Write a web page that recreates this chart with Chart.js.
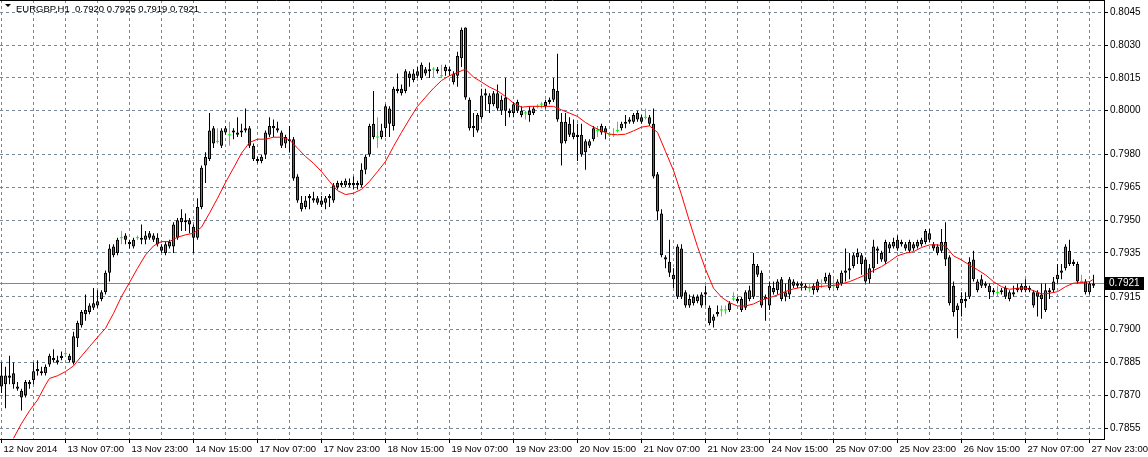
<!DOCTYPE html>
<html>
<head>
<meta charset="utf-8">
<title>EURGBP,H1</title>
<script src="https://cdn.jsdelivr.net/npm/chart.js@4.4.1/dist/chart.umd.min.js"></script>
<style>
  html, body { margin: 0; padding: 0; background: #ffffff; }
  canvas { display: block; }
</style>
</head>
<body>
<canvas id="chart" width="1148" height="457"></canvas>
<script>
// header line: symbol and the OHLC of the last bar
const symbolLabel = "EURGBP,H1";
const lastBar = [0.7920, 0.7925, 0.7919, 0.7921];

// right axis price levels
const priceTicks = [0.8045, 0.8030, 0.8015, 0.8000, 0.7980, 0.7965, 0.7950, 0.7935, 0.7915, 0.7900, 0.7885, 0.7870, 0.7855];

// bottom axis, one label every 16 hourly bars
const timeLabels = ["12 Nov 2014", "13 Nov 07:00", "13 Nov 23:00", "14 Nov 15:00", "17 Nov 07:00", "17 Nov 23:00",
  "18 Nov 15:00", "19 Nov 07:00", "19 Nov 23:00", "20 Nov 15:00", "21 Nov 07:00", "21 Nov 23:00",
  "24 Nov 15:00", "25 Nov 07:00", "25 Nov 23:00", "26 Nov 15:00", "27 Nov 07:00", "27 Nov 23:00"];
const labelEvery = 16;
const gridEvery = 8;

// hourly candles, 16 per row
const opens = [
  0.7879, 0.7875, 0.7878, 0.7880, 0.7874, 0.7872, 0.7870, 0.7875, 0.7877, 0.7882, 0.7880, 0.7880, 0.7884, 0.7886, 0.7885, 0.7887,
  0.7889, 0.7888, 0.7885, 0.7896, 0.7902, 0.7909, 0.7908, 0.7910, 0.7911, 0.7914, 0.7917, 0.7926, 0.7938, 0.7935, 0.7942, 0.7943,
  0.7940, 0.7938, 0.7942, 0.7941, 0.7941, 0.7944, 0.7943, 0.7942, 0.7938, 0.7935, 0.7938, 0.7938, 0.7942, 0.7949, 0.7950, 0.7950,
  0.7947, 0.7942, 0.7956, 0.7975, 0.7978, 0.7992, 0.7986, 0.7984, 0.7990, 0.7989, 0.7990, 0.7990, 0.7990, 0.7991, 0.7992, 0.7984,
  0.7978, 0.7977, 0.7980, 0.7989, 0.7992, 0.7992, 0.7990, 0.7985, 0.7986, 0.7987, 0.7970, 0.7958, 0.7956, 0.7960, 0.7960, 0.7960,
  0.7959, 0.7958, 0.7960, 0.7959, 0.7967, 0.7966, 0.7966, 0.7966, 0.7966, 0.7967, 0.7966, 0.7973, 0.7980, 0.7994, 0.7988, 0.7988,
  0.7992, 0.8001, 0.7993, 0.8009, 0.8010, 0.8009, 0.8017, 0.8014, 0.8018, 0.8015, 0.8019, 0.8018, 0.8019, 0.8019, 0.8016, 0.8018,
  0.8019, 0.8017, 0.8016, 0.8024, 0.8038, 0.8005, 0.7993, 0.7991, 0.7997, 0.8008, 0.8003, 0.8003, 0.8008, 0.8000, 0.8006, 0.8000,
  0.7999, 0.8004, 0.7998, 0.7999, 0.7998, 0.7999, 0.8002, 0.8003, 0.8002, 0.8004, 0.8005, 0.8009, 0.7995, 0.7986, 0.7994, 0.7990,
  0.7989, 0.7989, 0.7981, 0.7984, 0.7987, 0.7991, 0.7990, 0.7992, 0.7989, 0.7989, 0.7991, 0.7992, 0.7994, 0.7995, 0.7995, 0.7999,
  0.7997, 0.7997, 0.7997, 0.7994, 0.7971, 0.7953, 0.7933, 0.7931, 0.7925, 0.7915, 0.7937, 0.7917, 0.7911, 0.7915, 0.7913, 0.7916,
  0.7916, 0.7910, 0.7904, 0.7907, 0.7909, 0.7909, 0.7909, 0.7914, 0.7913, 0.7914, 0.7910, 0.7914, 0.7915, 0.7929, 0.7926, 0.7914,
  0.7911, 0.7919, 0.7918, 0.7923, 0.7915, 0.7916, 0.7922, 0.7921, 0.7921, 0.7920, 0.7919, 0.7920, 0.7918, 0.7921, 0.7922, 0.7925,
  0.7920, 0.7919, 0.7921, 0.7926, 0.7927, 0.7929, 0.7933, 0.7934, 0.7932, 0.7923, 0.7928, 0.7937, 0.7935, 0.7931, 0.7937, 0.7938,
  0.7941, 0.7940, 0.7939, 0.7936, 0.7939, 0.7938, 0.7939, 0.7940, 0.7944, 0.7939, 0.7938, 0.7936, 0.7940, 0.7933, 0.7920, 0.7909,
  0.7912, 0.7913, 0.7915, 0.7932, 0.7918, 0.7923, 0.7921, 0.7920, 0.7918, 0.7917, 0.7917, 0.7919, 0.7914, 0.7916, 0.7918, 0.7918,
  0.7920, 0.7919, 0.7917, 0.7917, 0.7916, 0.7909, 0.7917, 0.7918, 0.7923, 0.7926, 0.7928, 0.7936, 0.7931, 0.7930, 0.7922, 0.7922,
  0.7917, 0.7920
];
const highs = [
  0.7885, 0.7883, 0.7888, 0.7885, 0.7876, 0.7873, 0.7877, 0.7877, 0.7885, 0.7886, 0.7883, 0.7884, 0.7889, 0.7891, 0.7888, 0.7890,
  0.7891, 0.7889, 0.7899, 0.7904, 0.7909, 0.7916, 0.7912, 0.7919, 0.7918, 0.7918, 0.7927, 0.7939, 0.7939, 0.7942, 0.7945, 0.7944,
  0.7941, 0.7942, 0.7943, 0.7948, 0.7945, 0.7945, 0.7944, 0.7944, 0.7939, 0.7940, 0.7941, 0.7949, 0.7951, 0.7955, 0.7953, 0.7951,
  0.7948, 0.7960, 0.7975, 0.7981, 0.7999, 0.7993, 0.7992, 0.7992, 0.7993, 0.7995, 0.7992, 0.7997, 0.7994, 0.8001, 0.7993, 0.7985,
  0.7979, 0.7980, 0.7991, 0.7997, 0.7996, 0.7995, 0.7991, 0.7989, 0.7993, 0.7988, 0.7971, 0.7961, 0.7961, 0.7962, 0.7963, 0.7961,
  0.7961, 0.7961, 0.7962, 0.7967, 0.7968, 0.7968, 0.7969, 0.7969, 0.7970, 0.7968, 0.7976, 0.7980, 0.7994, 0.8009, 0.7997, 0.7994,
  0.8003, 0.8002, 0.8011, 0.8017, 0.8012, 0.8019, 0.8018, 0.8019, 0.8020, 0.8022, 0.8020, 0.8022, 0.8020, 0.8020, 0.8021, 0.8021,
  0.8020, 0.8018, 0.8027, 0.8038, 0.8038, 0.8006, 0.7999, 0.7999, 0.8010, 0.8010, 0.8008, 0.8009, 0.8012, 0.8007, 0.8015, 0.8001,
  0.8004, 0.8005, 0.8002, 0.8000, 0.8002, 0.8002, 0.8003, 0.8004, 0.8005, 0.8006, 0.8015, 0.8026, 0.7999, 0.7999, 0.7997, 0.7996,
  0.7994, 0.7994, 0.7987, 0.7987, 0.7993, 0.7993, 0.7994, 0.7993, 0.7990, 0.7992, 0.7995, 0.7995, 0.7998, 0.7997, 0.7999, 0.8000,
  0.7998, 0.8001, 0.7998, 0.8001, 0.7972, 0.7955, 0.7934, 0.7941, 0.7928, 0.7939, 0.7939, 0.7918, 0.7916, 0.7916, 0.7916, 0.7917,
  0.7920, 0.7911, 0.7907, 0.7911, 0.7911, 0.7911, 0.7913, 0.7917, 0.7915, 0.7915, 0.7918, 0.7920, 0.7935, 0.7930, 0.7927, 0.7916,
  0.7922, 0.7922, 0.7923, 0.7924, 0.7921, 0.7924, 0.7923, 0.7922, 0.7922, 0.7921, 0.7921, 0.7921, 0.7923, 0.7923, 0.7926, 0.7926,
  0.7923, 0.7923, 0.7927, 0.7937, 0.7935, 0.7935, 0.7937, 0.7935, 0.7933, 0.7930, 0.7941, 0.7938, 0.7936, 0.7941, 0.7940, 0.7942,
  0.7943, 0.7941, 0.7940, 0.7941, 0.7940, 0.7941, 0.7942, 0.7946, 0.7946, 0.7940, 0.7939, 0.7946, 0.7949, 0.7934, 0.7922, 0.7912,
  0.7917, 0.7917, 0.7933, 0.7936, 0.7923, 0.7925, 0.7922, 0.7921, 0.7919, 0.7920, 0.7919, 0.7920, 0.7918, 0.7920, 0.7921, 0.7921,
  0.7923, 0.7920, 0.7918, 0.7918, 0.7921, 0.7921, 0.7919, 0.7924, 0.7930, 0.7930, 0.7939, 0.7941, 0.7932, 0.7931, 0.7925, 0.7923,
  0.7922, 0.7925
];
const lows = [
  0.7871, 0.7864, 0.7875, 0.7873, 0.7872, 0.7863, 0.7869, 0.7873, 0.7875, 0.7879, 0.7879, 0.7879, 0.7883, 0.7885, 0.7884, 0.7886,
  0.7888, 0.7885, 0.7884, 0.7892, 0.7901, 0.7904, 0.7907, 0.7909, 0.7910, 0.7913, 0.7916, 0.7922, 0.7933, 0.7934, 0.7939, 0.7939,
  0.7937, 0.7937, 0.7941, 0.7939, 0.7939, 0.7941, 0.7940, 0.7938, 0.7935, 0.7934, 0.7937, 0.7935, 0.7941, 0.7945, 0.7945, 0.7944,
  0.7935, 0.7941, 0.7955, 0.7967, 0.7977, 0.7983, 0.7985, 0.7983, 0.7989, 0.7984, 0.7987, 0.7988, 0.7988, 0.7990, 0.7983, 0.7977,
  0.7976, 0.7976, 0.7978, 0.7988, 0.7988, 0.7990, 0.7983, 0.7983, 0.7981, 0.7968, 0.7958, 0.7954, 0.7955, 0.7955, 0.7958, 0.7957,
  0.7956, 0.7955, 0.7956, 0.7958, 0.7964, 0.7965, 0.7965, 0.7965, 0.7964, 0.7964, 0.7965, 0.7971, 0.7979, 0.7987, 0.7983, 0.7987,
  0.7988, 0.7988, 0.7991, 0.8008, 0.8007, 0.8008, 0.8011, 0.8013, 0.8015, 0.8014, 0.8016, 0.8015, 0.8015, 0.8017, 0.8015, 0.8016,
  0.8016, 0.8012, 0.8011, 0.8020, 0.8005, 0.7991, 0.7988, 0.7990, 0.7996, 0.8000, 0.7999, 0.8002, 0.8000, 0.7998, 0.7993, 0.7997,
  0.7997, 0.7999, 0.7997, 0.7996, 0.7995, 0.7998, 0.8001, 0.8001, 0.8001, 0.8003, 0.8004, 0.7995, 0.7975, 0.7985, 0.7988, 0.7987,
  0.7977, 0.7979, 0.7973, 0.7983, 0.7986, 0.7988, 0.7989, 0.7987, 0.7988, 0.7988, 0.7990, 0.7991, 0.7992, 0.7994, 0.7994, 0.7995,
  0.7994, 0.7996, 0.7993, 0.7969, 0.7950, 0.7933, 0.7928, 0.7924, 0.7919, 0.7914, 0.7914, 0.7910, 0.7910, 0.7911, 0.7912, 0.7910,
  0.7911, 0.7902, 0.7901, 0.7906, 0.7906, 0.7907, 0.7908, 0.7913, 0.7912, 0.7908, 0.7909, 0.7913, 0.7914, 0.7924, 0.7910, 0.7904,
  0.7909, 0.7916, 0.7916, 0.7913, 0.7913, 0.7914, 0.7919, 0.7919, 0.7918, 0.7918, 0.7917, 0.7916, 0.7917, 0.7919, 0.7921, 0.7918,
  0.7918, 0.7918, 0.7920, 0.7922, 0.7923, 0.7928, 0.7930, 0.7925, 0.7921, 0.7921, 0.7926, 0.7930, 0.7931, 0.7930, 0.7935, 0.7937,
  0.7936, 0.7938, 0.7936, 0.7935, 0.7936, 0.7937, 0.7938, 0.7939, 0.7940, 0.7936, 0.7934, 0.7935, 0.7929, 0.7911, 0.7906, 0.7896,
  0.7906, 0.7910, 0.7914, 0.7922, 0.7917, 0.7919, 0.7919, 0.7914, 0.7916, 0.7915, 0.7916, 0.7914, 0.7913, 0.7915, 0.7917, 0.7917,
  0.7917, 0.7917, 0.7910, 0.7906, 0.7905, 0.7908, 0.7914, 0.7917, 0.7921, 0.7923, 0.7927, 0.7929, 0.7929, 0.7921, 0.7921, 0.7916,
  0.7916, 0.7919
];
const closes = [
  0.7874, 0.7879, 0.7879, 0.7875, 0.7873, 0.7869, 0.7876, 0.7876, 0.7881, 0.7881, 0.7881, 0.7883, 0.7888, 0.7887, 0.7886, 0.7888,
  0.7889, 0.7886, 0.7897, 0.7903, 0.7908, 0.7907, 0.7911, 0.7912, 0.7913, 0.7917, 0.7926, 0.7937, 0.7934, 0.7941, 0.7942, 0.7941,
  0.7939, 0.7941, 0.7942, 0.7942, 0.7943, 0.7942, 0.7941, 0.7939, 0.7936, 0.7939, 0.7940, 0.7948, 0.7950, 0.7951, 0.7949, 0.7948,
  0.7942, 0.7956, 0.7974, 0.7979, 0.7991, 0.7985, 0.7986, 0.7991, 0.7992, 0.7989, 0.7991, 0.7989, 0.7991, 0.7992, 0.7984, 0.7978,
  0.7977, 0.7979, 0.7990, 0.7993, 0.7993, 0.7991, 0.7984, 0.7988, 0.7987, 0.7969, 0.7959, 0.7955, 0.7959, 0.7961, 0.7959, 0.7958,
  0.7957, 0.7960, 0.7961, 0.7966, 0.7965, 0.7967, 0.7968, 0.7967, 0.7967, 0.7966, 0.7973, 0.7979, 0.7993, 0.7988, 0.7988, 0.7991,
  0.8002, 0.7994, 0.8010, 0.8010, 0.8008, 0.8018, 0.8015, 0.8017, 0.8016, 0.8021, 0.8017, 0.8019, 0.8019, 0.8018, 0.8016, 0.8020,
  0.8018, 0.8013, 0.8025, 0.8037, 0.8006, 0.7992, 0.7992, 0.7998, 0.8007, 0.8007, 0.8007, 0.8008, 0.8001, 0.8005, 0.8000, 0.7999,
  0.8003, 0.8000, 0.8000, 0.7999, 0.8000, 0.8001, 0.8002, 0.8003, 0.8004, 0.8005, 0.8010, 0.7996, 0.7985, 0.7995, 0.7989, 0.7988,
  0.7988, 0.7980, 0.7986, 0.7986, 0.7992, 0.7991, 0.7993, 0.7990, 0.7989, 0.7989, 0.7991, 0.7994, 0.7995, 0.7996, 0.7998, 0.7996,
  0.7995, 0.7997, 0.7994, 0.7970, 0.7954, 0.7934, 0.7932, 0.7926, 0.7923, 0.7938, 0.7915, 0.7911, 0.7914, 0.7912, 0.7915, 0.7911,
  0.7917, 0.7903, 0.7906, 0.7908, 0.7909, 0.7909, 0.7912, 0.7914, 0.7914, 0.7909, 0.7917, 0.7918, 0.7930, 0.7925, 0.7911, 0.7915,
  0.7920, 0.7917, 0.7922, 0.7914, 0.7917, 0.7923, 0.7920, 0.7920, 0.7920, 0.7919, 0.7919, 0.7918, 0.7922, 0.7921, 0.7924, 0.7919,
  0.7920, 0.7922, 0.7926, 0.7927, 0.7928, 0.7934, 0.7935, 0.7930, 0.7922, 0.7928, 0.7938, 0.7936, 0.7932, 0.7940, 0.7939, 0.7940,
  0.7937, 0.7939, 0.7937, 0.7940, 0.7937, 0.7940, 0.7941, 0.7945, 0.7941, 0.7937, 0.7935, 0.7940, 0.7932, 0.7912, 0.7908, 0.7911,
  0.7914, 0.7914, 0.7931, 0.7923, 0.7922, 0.7920, 0.7920, 0.7917, 0.7917, 0.7917, 0.7918, 0.7915, 0.7917, 0.7917, 0.7919, 0.7920,
  0.7918, 0.7918, 0.7911, 0.7915, 0.7914, 0.7918, 0.7918, 0.7922, 0.7925, 0.7927, 0.7938, 0.7930, 0.7930, 0.7922, 0.7922, 0.7917,
  0.7921, 0.7921
];

// moving average (bar number, value)
const maBars = [
  3, 5, 7, 9, 11, 12, 14, 16, 18, 20,
  22, 24, 26, 28, 30, 32, 34, 36, 38, 40,
  42, 44, 46, 48, 50, 52, 54, 56, 58, 60,
  62, 64, 66, 68, 70, 72, 74, 76, 78, 80,
  82, 84, 86, 88, 90, 92, 94, 96, 98, 100,
  102, 104, 106, 108, 110, 112, 114, 116, 118, 120,
  122, 124, 126, 128, 130, 132, 134, 136, 138, 140,
  142, 144, 146, 148, 150, 152, 154, 156, 158, 160,
  162, 164, 166, 168, 170, 172, 174, 176, 178, 180,
  182, 184, 186, 188, 190, 192, 194, 196, 198, 200,
  202, 204, 206, 208, 210, 212, 214, 216, 218, 220,
  222, 224, 226, 228, 230, 232, 234, 236, 238, 240,
  242, 244, 246, 248, 250, 252, 254, 256, 258, 260,
  262, 264, 266, 268, 270, 272, 273
];
const maValues = [
  0.78503, 0.78571, 0.78629, 0.78678, 0.78747, 0.78777, 0.78789, 0.78808, 0.78834, 0.78879,
  0.78922, 0.78965, 0.79006, 0.79074, 0.79151, 0.79215, 0.79280, 0.79341, 0.79382, 0.79402,
  0.79402, 0.79422, 0.79433, 0.79440, 0.79468, 0.79532, 0.79600, 0.79672, 0.79738, 0.79806,
  0.79855, 0.79870, 0.79870, 0.79879, 0.79879, 0.79867, 0.79829, 0.79791, 0.79760, 0.79722,
  0.79677, 0.79635, 0.79617, 0.79623, 0.79641, 0.79677, 0.79722, 0.79768, 0.79837, 0.79901,
  0.79962, 0.80020, 0.80062, 0.80103, 0.80138, 0.80160, 0.80175, 0.80190, 0.80154, 0.80131,
  0.80108, 0.80091, 0.80065, 0.80035, 0.80016, 0.80020, 0.80020, 0.80020, 0.80020, 0.80004,
  0.79989, 0.79974, 0.79946, 0.79925, 0.79908, 0.79893, 0.79890, 0.79893, 0.79908, 0.79925,
  0.79931, 0.79901, 0.79814, 0.79727, 0.79616, 0.79494, 0.79379, 0.79276, 0.79189, 0.79148,
  0.79123, 0.79108, 0.79108, 0.79117, 0.79135, 0.79146, 0.79158, 0.79174, 0.79186, 0.79193,
  0.79193, 0.79196, 0.79199, 0.79202, 0.79209, 0.79219, 0.79234, 0.79250, 0.79270, 0.79288,
  0.79311, 0.79337, 0.79349, 0.79356, 0.79375, 0.79387, 0.79387, 0.79382, 0.79337, 0.79318,
  0.79295, 0.79273, 0.79250, 0.79219, 0.79196, 0.79184, 0.79189, 0.79190, 0.79178, 0.79163,
  0.79166, 0.79173, 0.79196, 0.79212, 0.79215, 0.79219, 0.79230
];

const BULL_FILL = "#22b422";
const BEAR_FILL = "#ff2020";
const DOJI_COLOR = "#00ff00";
const GRID_COLOR = "#778899";
const PRICE_FONT = { family: "Liberation Sans", size: 10 };
const TIME_FONT = { family: "Liberation Sans", size: 9.5 };
const HEADER_FONT = "9.5px 'Liberation Sans'";

const wickData = highs.map((h, i) => ({ x: i, y: [lows[i], h], doji: opens[i] === closes[i] }));
const bodyData = [];
const dojiData = [];
opens.forEach((o, i) => {
  if (o === closes[i]) {
    dojiData.push({ x: i, y: o });
  } else {
    bodyData.push({ x: i, y: [o, closes[i]], up: closes[i] > o });
  }
});
const maData = maBars.map((b, k) => ({ x: b, y: maValues[k] }));

// bid line, price tag and the symbol header
const terminalDecor = {
  id: "terminalDecor",
  beforeDatasetsDraw(chart) {
    const { ctx, chartArea, scales } = chart;
    const y = Math.floor(scales.y.getPixelForValue(lastBar[3])) + 0.5;
    ctx.save();
    ctx.strokeStyle = GRID_COLOR;
    ctx.lineWidth = 1;
    ctx.beginPath();
    ctx.moveTo(chartArea.left, y);
    ctx.lineTo(chartArea.right, y);
    ctx.stroke();
    ctx.restore();
  },
  afterDraw(chart) {
    const { ctx, chartArea, scales } = chart;
    ctx.save();
    // top edge of the frame
    ctx.strokeStyle = "#000000";
    ctx.lineWidth = 1;
    ctx.beginPath();
    ctx.moveTo(chartArea.left, 0.5);
    ctx.lineTo(chartArea.right + 1, 0.5);
    ctx.stroke();

    // price tag on the axis
    const y = Math.floor(scales.y.getPixelForValue(lastBar[3]));
    ctx.fillStyle = "#000000";
    ctx.fillRect(chartArea.right + 1, y - 6, 39, 13);
    ctx.fillStyle = "#ffffff";
    ctx.font = PRICE_FONT.size + "px '" + PRICE_FONT.family + "'";
    ctx.textBaseline = "middle";
    ctx.textAlign = "left";
    ctx.fillText(lastBar[3].toFixed(4), chartArea.right + 5, y + 0.5);

    // header
    ctx.fillStyle = "#000000";
    ctx.beginPath();
    ctx.moveTo(5, 4);
    ctx.lineTo(11, 4);
    ctx.lineTo(8, 7);
    ctx.closePath();
    ctx.fill();
    ctx.font = HEADER_FONT;
    ctx.textBaseline = "alphabetic";
    ctx.fillText(symbolLabel + "  " + lastBar.map(v => v.toFixed(4)).join(" "), 16, 12);
    ctx.restore();
  }
};

new Chart(document.getElementById("chart"), {
  type: "bar",
  data: {
    datasets: [
      {
        type: "line",
        label: "MA",
        data: maData,
        borderColor: "#ff0000",
        borderWidth: 1,
        pointRadius: 0,
        tension: 0,
        order: 0
      },
      {
        type: "line",
        label: "Doji",
        data: dojiData,
        showLine: false,
        pointStyle: "line",
        pointRadius: 1.5,
        pointBorderColor: DOJI_COLOR,
        pointBorderWidth: 1,
        order: 1
      },
      {
        label: "Body",
        data: bodyData,
        grouped: false,
        barThickness: 3,
        backgroundColor: (ctx) => (ctx.raw && ctx.raw.up ? BULL_FILL : BEAR_FILL),
        borderColor: "#000000",
        borderWidth: 1,
        borderSkipped: false,
        inflateAmount: 0,
        order: 2
      },
      {
        label: "Wick",
        data: wickData,
        grouped: false,
        barThickness: 1,
        backgroundColor: (ctx) => (ctx.raw && ctx.raw.doji ? DOJI_COLOR : "#000000"),
        borderWidth: 0,
        inflateAmount: 0,
        order: 3
      }
    ]
  },
  options: {
    responsive: false,
    animation: false,
    events: [],
    layout: { padding: 0, autoPadding: false },
    plugins: {
      legend: { display: false },
      tooltip: { enabled: false }
    },
    scales: {
      x: {
        type: "linear",
        position: "bottom",
        min: -0.375,
        max: 275.625,
        offset: false,
        grid: {
          offset: false,
          color: GRID_COLOR,
          lineWidth: 1,
          drawTicks: true,
          tickLength: 4,
          tickColor: (ctx) => (ctx.tick && ctx.tick.value % labelEvery === 0 ? "#000000" : "rgba(0,0,0,0)")
        },
        border: { display: true, color: "#000000", width: 1, dash: [3, 3] },
        ticks: {
          autoSkip: false,
          maxRotation: 0,
          minRotation: 0,
          align: "start",
          labelOffset: 2,
          padding: 1,
          color: "#000000",
          font: TIME_FONT,
          callback: (value) => (value % labelEvery === 0 ? timeLabels[value / labelEvery] : "")
        },
        afterBuildTicks: (scale) => {
          const ticks = [];
          for (let v = 0; v < opens.length; v += gridEvery) ticks.push({ value: v });
          scale.ticks = ticks;
        },
        afterFit: (scale) => {
          scale.height = 18;
          scale.paddingLeft = 0;
          scale.paddingRight = 0;
        }
      },
      y: {
        type: "linear",
        position: "right",
        min: 0.785,
        max: 0.80506,
        grid: {
          color: GRID_COLOR,
          lineWidth: 1,
          drawTicks: true,
          tickLength: 4,
          tickColor: "#000000"
        },
        border: { display: true, color: "#000000", width: 1, dash: [3, 3] },
        ticks: {
          padding: 2,
          crossAlign: "near",
          color: "#000000",
          font: PRICE_FONT,
          callback: (value) => value.toFixed(4)
        },
        afterBuildTicks: (scale) => {
          scale.ticks = priceTicks.map((value) => ({ value }));
        },
        afterFit: (scale) => {
          scale.width = 44;
          scale.paddingTop = 0;
          scale.paddingBottom = 0;
        }
      }
    }
  },
  plugins: [terminalDecor]
});
</script>
</body>
</html>
